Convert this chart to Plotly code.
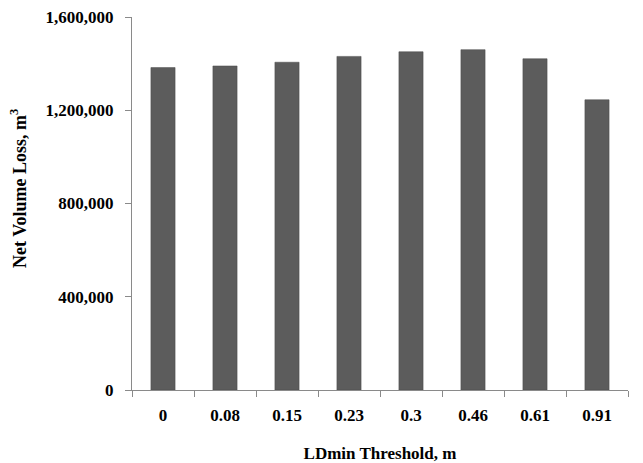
import plotly.graph_objects as go

categories = ["0", "0.08", "0.15", "0.23", "0.3", "0.46", "0.61", "0.91"]
net_volume_loss = [1383000, 1390000, 1406000, 1431000, 1451000, 1460000, 1421000, 1245000]
y_tick_values = [0, 400000, 800000, 1200000, 1600000]
y_tick_labels = ["0", "400,000", "800,000", "1,200,000", "1,600,000"]

font_family = "Liberation Serif, Times New Roman, serif"
W, H = 643, 463
ML, MR, MT, MB = 132, 15, 17, 73

fig = go.Figure(
    go.Bar(
        x=categories,
        y=net_volume_loss,
        marker=dict(color="#5c5c5c", line=dict(color="#4a4a4a", width=0.5)),
    )
)

fig.update_layout(
    width=W,
    height=H,
    margin=dict(l=ML, r=MR, t=MT, b=MB),
    paper_bgcolor="white",
    plot_bgcolor="white",
    bargap=0.61,
    showlegend=False,
    font=dict(family=font_family, size=17, color="black"),
)

fig.update_xaxes(
    type="category",
    automargin=False,
    showline=True,
    linecolor="#8a8a8a",
    linewidth=1,
    ticks="outside",
    tickson="boundaries",
    ticklen=6,
    tickcolor="#8a8a8a",
    showgrid=False,
    ticklabelstandoff=10,
    tickfont=dict(family=font_family, size=17, color="black", weight="bold"),
    title=dict(text="<b>LDmin Threshold, m</b>", font=dict(family=font_family, size=17), standoff=24),
)

fig.update_yaxes(
    range=[0, 1600000],
    automargin=False,
    tickvals=y_tick_values,
    ticktext=y_tick_labels,
    showline=True,
    linecolor="#8a8a8a",
    linewidth=1,
    ticks="outside",
    ticklen=6,
    tickcolor="#8a8a8a",
    showgrid=False,
    zeroline=False,
    ticklabelstandoff=8,
    tickfont=dict(family=font_family, size=17, color="black", weight="bold"),
)

# y-axis title placed as a rotated annotation (slightly above plot centre, as in the reference)
fig.add_annotation(
    text="<b>Net Volume Loss, m<sup>3</sup></b>",
    xref="paper", yref="paper",
    x=(18 - ML) / (W - ML - MR),
    y=(H - MB - 189) / (H - MT - MB),
    xanchor="center", yanchor="middle",
    textangle=-90,
    showarrow=False,
    font=dict(family=font_family, size=18, color="black"),
)

fig.write_html("out.html")
